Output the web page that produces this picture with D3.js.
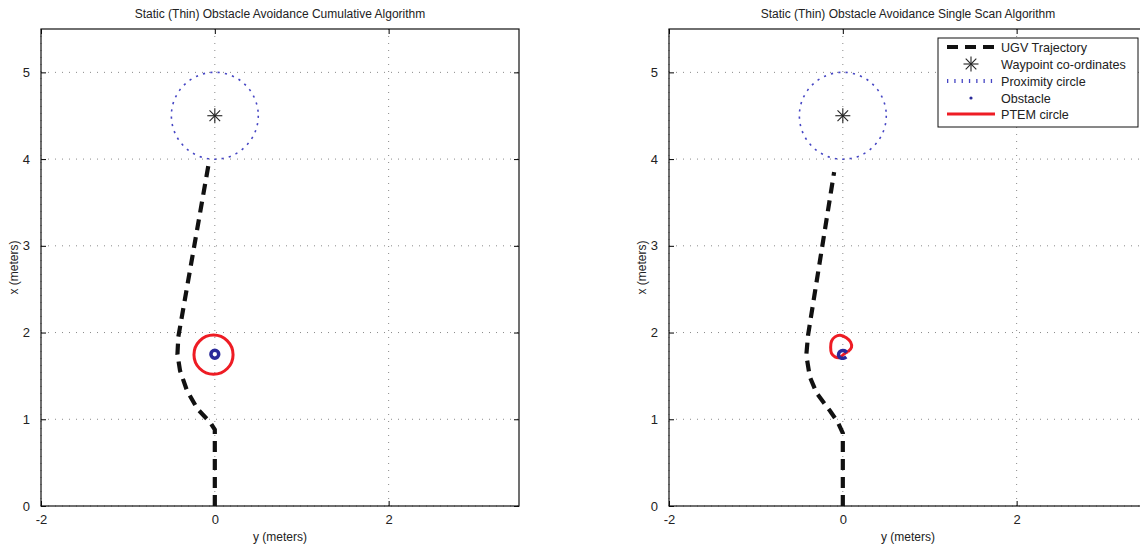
<!DOCTYPE html>
<html><head><meta charset="utf-8">
<script src="https://cdn.jsdelivr.net/npm/d3@7"></script>
<style>body{margin:0;background:#fff;overflow:hidden}svg{display:block}text{font-family:"Liberation Sans",Arial,sans-serif;fill:#222}</style>
</head><body>
<svg id="c" width="1140" height="546"></svg>
<script>
// ---- data ----
const titles = ["Static (Thin) Obstacle Avoidance Cumulative Algorithm", "Static (Thin) Obstacle Avoidance Single Scan Algorithm"];
const xTicks = [-2, 0, 2];
const yTicks = [0, 1, 2, 3, 4, 5];
const xDomain = [-2, 3.5];
const yDomain = [0, 5.5];
const waypoint = [0, 4.5];
const proximityRadius = 0.5;
const obstacle = [0, 1.75];
const obstacleRadius = 0.045;
// cumulative trajectory (lateral y, forward x)
const trajCumY = [0, 0, -0.05, -0.20, -0.32, -0.40, -0.43, -0.42, -0.07];
const trajCumX = [0, 0.88, 0.96, 1.12, 1.33, 1.56, 1.75, 1.95, 3.95];
// single-scan trajectory
const trajSingY = [0, 0, -0.06, -0.15, -0.30, -0.38, -0.42, -0.40, -0.10];
const trajSingX = [0, 0.84, 0.97, 1.10, 1.30, 1.49, 1.74, 1.97, 3.85];
// cumulative PTEM circle
const ptemCumCenter = [-0.015, 1.745];
const ptemCumRadius = 0.225;
// single scan PTEM loop
const ptemSingY = [0.06, 0.10, 0.09, 0.04, -0.03, -0.09, -0.13, -0.14, -0.13, -0.09, -0.04, 0.00, 0.04, 0.06];
const ptemSingX = [1.78, 1.83, 1.89, 1.94, 1.97, 1.95, 1.90, 1.83, 1.76, 1.72, 1.71, 1.74, 1.77, 1.78];
// single scan obstacle (partial ring)
const obsSingY = [0.045, 0.02, -0.02, -0.045, -0.045, -0.02, 0.015, 0.04];
const obsSingX = [1.77, 1.79, 1.79, 1.765, 1.725, 1.705, 1.705, 1.72];
const legendLabels = ["UGV Trajectory", "Waypoint co-ordinates", "Proximity circle", "Obstacle", "PTEM circle"];

// ---- drawing ----
const svg = d3.select("#c");
const panels = [
  {left: 41, trajY: trajCumY, trajX: trajCumX, cum: true},
  {left: 669, trajY: trajSingY, trajX: trajSingX, cum: false}
];
const W = 478, axTop = 29, axBottom = 506;
const blue = "#2a2a9a", red = "#ee1c24";
const fmt = v => String(v);

panels.forEach((p, i) => {
  const x = d3.scaleLinear().domain(xDomain).range([p.left, p.left + W]);
  const y = d3.scaleLinear().domain(yDomain).range([axBottom, axTop]);
  const g = svg.append("g");
  // grid
  g.selectAll(".gx").data(xTicks).join("line")
    .attr("x1", d => x(d)).attr("x2", d => x(d)).attr("y1", axTop).attr("y2", axBottom)
    .attr("stroke", "#8a8a8a").attr("stroke-width", 1).attr("stroke-dasharray", "1,6");
  g.selectAll(".gy").data(yTicks).join("line")
    .attr("y1", d => y(d)).attr("y2", d => y(d)).attr("x1", p.left).attr("x2", p.left + W)
    .attr("stroke", "#8a8a8a").attr("stroke-width", 1).attr("stroke-dasharray", "1,6");
  // axes with inner ticks
  g.append("g").attr("transform", `translate(0,${axBottom})`)
    .call(d3.axisBottom(x).tickValues(xTicks).tickSize(-5).tickPadding(9).tickFormat(fmt))
    .call(a => a.select(".domain").remove());
  g.append("g").attr("transform", `translate(0,${axTop})`)
    .call(d3.axisTop(x).tickValues(xTicks).tickSize(-5).tickFormat(""))
    .call(a => a.select(".domain").remove());
  g.append("g").attr("transform", `translate(${p.left},0)`)
    .call(d3.axisLeft(y).tickValues(yTicks).tickSize(-5).tickPadding(11).tickFormat(fmt))
    .call(a => a.select(".domain").remove());
  g.append("g").attr("transform", `translate(${p.left + W},0)`)
    .call(d3.axisRight(y).tickValues(yTicks).tickSize(-5).tickFormat(""))
    .call(a => a.select(".domain").remove());
  g.selectAll(".tick line").attr("stroke", "#000");
  g.selectAll(".tick text").attr("font-size", 13).attr("fill", "#222")
    .attr("font-family", "Liberation Sans, Arial, sans-serif");
  // clip
  const cid = "clip" + i;
  svg.append("clipPath").attr("id", cid).append("rect")
    .attr("x", p.left).attr("y", axTop).attr("width", W).attr("height", axBottom - axTop);
  const d = g.append("g").attr("clip-path", `url(#${cid})`);
  const k = x(1) - x(0);
  // proximity circle
  d.append("circle").attr("cx", x(waypoint[0])).attr("cy", y(waypoint[1]))
    .attr("r", proximityRadius * k).attr("fill", "none").attr("stroke", "#4646c4")
    .attr("stroke-width", 1.6).attr("stroke-dasharray", "2.2,5.2");
  // waypoint asterisk
  const wx = x(waypoint[0]), wy = y(waypoint[1]), s = 7.5, sd = 5.3;
  [[-s,0,s,0],[0,-s,0,s],[-sd,-sd,sd,sd],[-sd,sd,sd,-sd]].forEach(l =>
    d.append("line").attr("x1", wx + l[0]).attr("y1", wy + l[1]).attr("x2", wx + l[2]).attr("y2", wy + l[3])
      .attr("stroke", "#222").attr("stroke-width", 1.1));
  // trajectory
  const line = d3.line().x(v => x(v[0])).y(v => y(v[1]));
  const pts = p.trajY.map((v, j) => [v, p.trajX[j]]);
  d.append("path").attr("d", line(pts)).attr("fill", "none").attr("stroke", "#111")
    .attr("stroke-width", 4.2).attr("stroke-dasharray", "11,7");
  // PTEM & obstacle
  if (p.cum) {
    d.append("circle").attr("cx", x(ptemCumCenter[0])).attr("cy", y(ptemCumCenter[1]))
      .attr("r", ptemCumRadius * k).attr("fill", "none").attr("stroke", red).attr("stroke-width", 3);
    d.append("circle").attr("cx", x(obstacle[0])).attr("cy", y(obstacle[1]))
      .attr("r", obstacleRadius * k).attr("fill", "none").attr("stroke", blue).attr("stroke-width", 3.5);
  } else {
    const pl = ptemSingY.map((v, j) => [v, ptemSingX[j]]);
    d.append("path").attr("d", d3.line().x(v => x(v[0])).y(v => y(v[1])).curve(d3.curveCatmullRom)(pl))
      .attr("fill", "none").attr("stroke", red).attr("stroke-width", 3);
    const ol = obsSingY.map((v, j) => [v, obsSingX[j]]);
    d.append("path").attr("d", d3.line().x(v => x(v[0])).y(v => y(v[1])).curve(d3.curveCatmullRom)(ol))
      .attr("fill", "none").attr("stroke", blue).attr("stroke-width", 3.5);
  }
  // box
  g.append("rect").attr("x", p.left).attr("y", axTop).attr("width", W).attr("height", axBottom - axTop)
    .attr("fill", "none").attr("stroke", "#111").attr("stroke-width", 1.2);
  // labels
  svg.append("text").attr("x", p.left + W / 2).attr("y", 18).attr("text-anchor", "middle")
    .attr("font-size", 12).text(titles[i]);
  svg.append("text").attr("x", p.left + W / 2).attr("y", 541).attr("text-anchor", "middle")
    .attr("font-size", 12).text("y (meters)");
  svg.append("text").attr("transform", `translate(${p.left - 23},${(axTop + axBottom) / 2}) rotate(-90)`)
    .attr("text-anchor", "middle").attr("font-size", 12).text("x (meters)");
});

// legend
const lg = svg.append("g");
const lx = 938, ly = 38;
lg.append("rect").attr("x", lx).attr("y", ly).attr("width", 200).attr("height", 89)
  .attr("fill", "#fff").attr("stroke", "#111").attr("stroke-width", 1);
const rows = [47, 64, 81, 98, 114];
legendLabels.forEach((t, i) => {
  lg.append("text").attr("x", 1001).attr("y", rows[i] + 4.5).attr("font-size", 12.6).text(t);
});
lg.append("line").attr("x1", 947).attr("x2", 995).attr("y1", rows[0]).attr("y2", rows[0])
  .attr("stroke", "#111").attr("stroke-width", 4.2).attr("stroke-dasharray", "11,7");
{
  const cx = 971, cy = rows[1], s = 7.5, sd = 5.3;
  [[-s,0,s,0],[0,-s,0,s],[-sd,-sd,sd,sd],[-sd,sd,sd,-sd]].forEach(l =>
    lg.append("line").attr("x1", cx + l[0]).attr("y1", cy + l[1]).attr("x2", cx + l[2]).attr("y2", cy + l[3])
      .attr("stroke", "#222").attr("stroke-width", 1.1));
}
lg.append("line").attr("x1", 947).attr("x2", 995).attr("y1", rows[2]).attr("y2", rows[2])
  .attr("stroke", "#4646c4").attr("stroke-width", 4).attr("stroke-dasharray", "1.3,6");
lg.append("circle").attr("cx", 971).attr("cy", rows[3]).attr("r", 1.6).attr("fill", blue);
lg.append("line").attr("x1", 947).attr("x2", 995).attr("y1", rows[4]).attr("y2", rows[4])
  .attr("stroke", red).attr("stroke-width", 3);
</script>
</body></html>
